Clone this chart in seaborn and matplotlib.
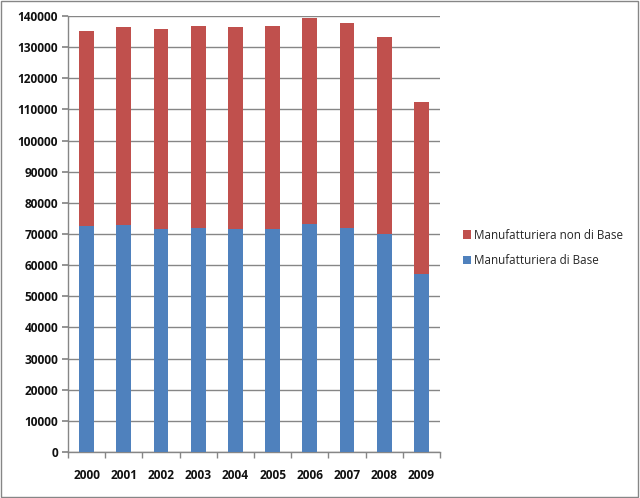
import numpy as np
import pandas as pd
import matplotlib
matplotlib.use('Agg')
import matplotlib.pyplot as plt
import seaborn as sns
from matplotlib.patches import Rectangle, Patch

# Data
years = ['2000', '2001', '2002', '2003', '2004', '2005', '2006', '2007', '2008', '2009']
base = [72700, 73000, 71700, 72000, 71700, 71700, 73300, 72000, 70100, 57300]
non_base = [62400, 63400, 64000, 64800, 64700, 65100, 65950, 65650, 63100, 55050]
series_names = ['Manufatturiera non di Base', 'Manufatturiera di Base']

blue = '#4F81BD'
red = '#C0504D'
grid_col = '#868686'

df = pd.DataFrame({'year': years, 'base': base, 'non_base': non_base})
df['total'] = df['base'] + df['non_base']

sns.set_theme(style='white')
plt.rcParams['font.family'] = ['Open Sans', 'DejaVu Sans']

fig = plt.figure(figsize=(6.4, 4.98), dpi=100)
ax = fig.add_axes([68 / 640, 1 - 452 / 498, (440 - 68) / 640, (452 - 16) / 498])

# stacked bars: total in red, base on top in blue
sns.barplot(data=df, x='year', y='total', color=red, width=0.4, ax=ax,
            saturation=1, linewidth=0, zorder=3)
sns.barplot(data=df, x='year', y='base', color=blue, width=0.4, ax=ax,
            saturation=1, linewidth=0, zorder=3)

ax.set_ylim(0, 140000)
ax.set_xlim(-0.5, 9.5)
ax.set_yticks(np.arange(0, 140001, 10000))
ax.set_xlabel('')
ax.set_ylabel('')
ax.yaxis.grid(True, color=grid_col, linewidth=1, zorder=0)
ax.set_axisbelow(True)

for s in ['top', 'right']:
    ax.spines[s].set_visible(False)
for s in ['left', 'bottom']:
    ax.spines[s].set_color(grid_col)
    ax.spines[s].set_linewidth(1)

ax.tick_params(axis='y', which='major', length=4, color=grid_col, direction='out',
               labelsize=8.6, pad=3, left=True)
ax.tick_params(axis='x', which='major', length=0, labelsize=8.6, pad=12)
ax.set_xticks(np.arange(-0.5, 10, 1), minor=True)
ax.tick_params(axis='x', which='minor', length=4, color=grid_col, direction='out',
               bottom=True)
for lab in ax.get_xticklabels() + ax.get_yticklabels():
    lab.set_fontweight('bold')
    lab.set_color('#111111')

handles = [Patch(facecolor=red, edgecolor='none'), Patch(facecolor=blue, edgecolor='none')]
fig.legend(handles, series_names, loc='center left', bbox_to_anchor=(452 / 640, 1 - 248 / 498),
           frameon=False, fontsize=8.4, handlelength=0.7, handleheight=0.7,
           handletextpad=0.3, labelspacing=1.1)

# outer chart border
fig.add_artist(Rectangle((0.002, 0.003), 0.995, 0.994, transform=fig.transFigure,
                         fill=False, edgecolor=grid_col, linewidth=1))

fig.savefig('out.png', dpi=100)
